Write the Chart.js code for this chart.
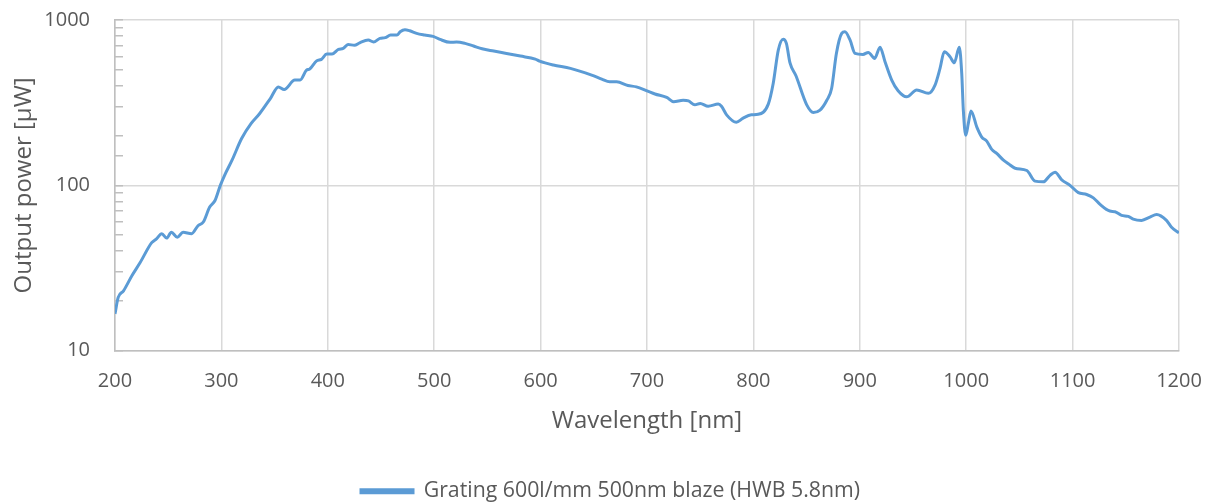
<!DOCTYPE html>
<html lang="en">
<head>
  <meta charset="UTF-8" />
  <title>Grating output power</title>
  <script src="https://cdn.jsdelivr.net/npm/chart.js"></script>
  <style>
    body {
      margin: 0;
      background: #fff;
    }
    #wrap {
      width: 1217px;
      height: 504px;
    }
  </style>
</head>
<body>
  <div id="wrap"><canvas id="powerChart" width="1217" height="504"></canvas></div>

  <script>
    // wavelength [nm] and output power [µW]
    const wavelengths = [
      200, 203, 208, 216, 223.5, 234.5, 239, 244, 248.5, 253, 258.5, 264, 272, 278, 283, 289, 294, 299,
      303, 310, 319, 328, 336, 346, 353.5, 359, 369, 374, 380, 383, 389.5, 394, 399, 404, 410, 414.5,
      419, 425, 430, 438, 443, 449, 454, 459, 465, 468, 472.5, 477, 483.5, 491, 499, 505.5, 515, 521,
      529, 537, 545, 556, 568, 581, 595, 599, 612, 628, 648, 657.5, 665, 671.5, 682, 690, 700, 707.5,
      718.5, 725, 734, 739, 745, 750, 757.5, 767, 770, 775, 784, 790, 798, 804.5, 814, 818.6, 823.4,
      828, 831, 834.4, 840, 850, 856.3, 862.6, 869, 873.5, 878, 883, 886, 890.8, 895.5, 903, 908, 914,
      919, 923.7, 930, 936, 944, 953.5, 964.4, 970.7, 975.4, 979.4, 984.8, 988.8, 993.5, 995.8, 997.3,
      999.6, 1002, 1004.5, 1010, 1014.6, 1019.3, 1024, 1028.7, 1035, 1039.7, 1046, 1057, 1064.7, 1072.5,
      1078.8, 1083.5, 1089.8, 1097.6, 1105.4, 1113.2, 1119.5, 1125.8, 1135, 1139.8, 1146, 1152.3, 1157,
      1164.8, 1172.7, 1179, 1188.2, 1193, 1200
    ];
    const power = [
      16.7, 21, 23, 28.5, 34, 45, 47.5, 51, 48, 52, 48.6, 52, 51, 57, 60, 74, 81, 100,
      115, 142, 192, 237, 272, 335, 394, 380, 433, 433, 497, 505, 566, 578, 622, 622, 664, 673,
      712, 703, 728, 756, 736, 774, 782, 811, 811, 849, 873, 861, 830, 811, 796, 763, 733, 736,
      722, 696, 670, 649, 628, 605, 580, 564, 534, 510, 464, 439, 423, 423, 402, 394, 373, 357,
      340, 320, 327, 324, 307, 313, 301, 310, 301, 266, 241, 254, 267, 269, 310, 413, 658,
      764, 722, 550, 460, 308, 276, 285, 327, 385, 628, 830, 849, 757, 628, 619, 637, 586,
      684, 559, 433, 373, 343, 377, 360, 404, 510, 643, 600, 551, 684, 475, 285,
      201, 237, 282, 225, 196, 185, 165, 156, 142, 135, 127, 123, 106, 105,
      115, 120, 108, 100, 90.3, 88, 84, 76.7, 69.9, 69.3, 65.8, 64.9, 62.5,
      61.4, 64.3, 66.7, 61.4, 55.8, 51.6
    ];
    const seriesLabel = 'Grating 600l/mm 500nm blaze (HWB 5.8nm)';
    const majorTicks = [10, 100, 1000];

    const textColor = '#595959';
    const fontFamily = '"Open Sans", sans-serif';

    new Chart(document.getElementById('powerChart'), {
      type: 'line',
      data: {
        datasets: [{
          label: seriesLabel,
          data: wavelengths.map((w, i) => ({ x: w, y: power[i] })),
          borderColor: '#5b9bd5',
          backgroundColor: '#5b9bd5',
          borderWidth: 3,
          pointRadius: 0,
          cubicInterpolationMode: 'monotone',
          fill: false
        }]
      },
      options: {
        responsive: false,
        animation: false,
        layout: { padding: { top: 20, right: 0, left: 4, bottom: -8 } },
        plugins: {
          tooltip: { enabled: false },
          legend: {
            position: 'bottom',
            labels: {
              color: textColor,
              font: { family: fontFamily, size: 21.3 },
              boxWidth: 52,
              boxHeight: 3,
              padding: 20
            }
          }
        },
        scales: {
          x: {
            type: 'linear',
            min: 200,
            max: 1200,
            afterFit: scale => {
              scale.height = 110;
              scale.paddingLeft = 0;
              scale.paddingRight = 38;
            },
            ticks: {
              stepSize: 100,
              color: textColor,
              padding: 19,
              font: { family: fontFamily, size: 20 },
              callback: v => String(v)
            },
            grid: { color: '#d9d9d9', lineWidth: 1.5, drawTicks: false },
            border: { color: '#bfbfbf', width: 1.5 },
            title: {
              display: true,
              text: 'Wavelength [nm]',
              color: textColor,
              font: { family: fontFamily, size: 24 },
              padding: { top: 13, bottom: 25 }
            }
          },
          y: {
            type: 'logarithmic',
            min: 10,
            max: 1000,
            afterFit: scale => {
              // keep the axis where the reference has it
              scale.width = 111;
              scale.paddingTop = 0;
              scale.paddingBottom = 0;
            },
            ticks: {
              autoSkip: false,
              color: textColor,
              padding: 33,
              font: { family: fontFamily, size: 20 },
              callback: v => majorTicks.includes(v) ? String(v) : ''
            },
            grid: {
              color: ctx => ctx.tick && majorTicks.includes(ctx.tick.value) ? '#d9d9d9' : 'rgba(0,0,0,0)',
              lineWidth: 1.5,
              tickColor: '#bfbfbf',
              tickWidth: 1.5,
              tickLength: -8
            },
            border: { color: '#bfbfbf', width: 1.5 },
            title: {
              display: true,
              text: 'Output power [µW]',
              color: textColor,
              font: { family: fontFamily, size: 24 },
              padding: { top: 6, bottom: 6 }
            }
          }
        }
      }
    });
  </script>
</body>
</html>
